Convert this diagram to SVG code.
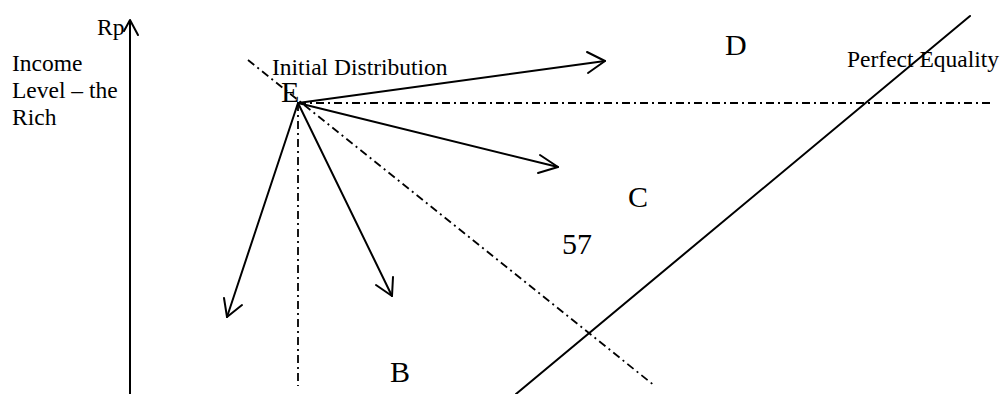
<svg xmlns="http://www.w3.org/2000/svg" width="1004" height="394" viewBox="0 0 1004 394">
<style>
.ln{stroke:#000;stroke-width:2;fill:none;stroke-linecap:round;stroke-linejoin:round}
.dd{stroke:#000;stroke-width:1.8;fill:none;stroke-dasharray:8 4 2 4}
.lbl{font-family:"Liberation Serif","Times New Roman",serif;font-size:23.5px;fill:#000}
.big{font-family:"Liberation Serif","Times New Roman",serif;font-size:30px;fill:#000}
</style>
<rect width="1004" height="394" fill="#fff"/>
<g id="axis">
<line class="ln" x1="130" y1="394" x2="130" y2="21"/>
<polyline class="ln" points="124,31 130,20 138,35"/>
<text class="lbl" x="97" y="35">Rp</text>
<text class="lbl" x="12" y="71">Income</text>
<text class="lbl" x="12" y="98">Level – the</text>
<text class="lbl" x="12" y="125">Rich</text>
</g>
<g id="connectors">
<line class="dd" x1="248" y1="60" x2="655" y2="386"/>
<line class="dd" x1="298" y1="103" x2="993" y2="103"/>
<line class="dd" x1="298" y1="103" x2="298" y2="386"/>
<line class="ln" x1="298" y1="103" x2="605" y2="61"/>
<polyline class="ln" points="587,52 605,61 588,73"/>
<line class="ln" x1="298" y1="103" x2="558" y2="167"/>
<polyline class="ln" points="540,155 558,167 538,173"/>
<line class="ln" x1="298" y1="103" x2="227" y2="317"/>
<polyline class="ln" points="224,298 227,317 242,305"/>
<line class="ln" x1="298" y1="103" x2="392" y2="296"/>
<polyline class="ln" points="376,285 392,296 393,277"/>
</g>
<g id="equality">
<line class="ln" x1="516" y1="394" x2="970" y2="16"/>
<text class="lbl" x="847" y="67">Perfect Equality</text>
</g>
<g id="initial">
<text class="lbl" x="272" y="75">Initial Distribution</text>
</g>
<g id="E"><text class="big" x="281" y="102">E</text></g>
<g id="D"><text class="big" x="725" y="55">D</text></g>
<g id="C"><text class="big" x="628" y="207">C</text></g>
<g id="n57"><text class="big" x="562" y="254">57</text></g>
<g id="B"><text class="big" x="390" y="382">B</text></g>
</svg>
